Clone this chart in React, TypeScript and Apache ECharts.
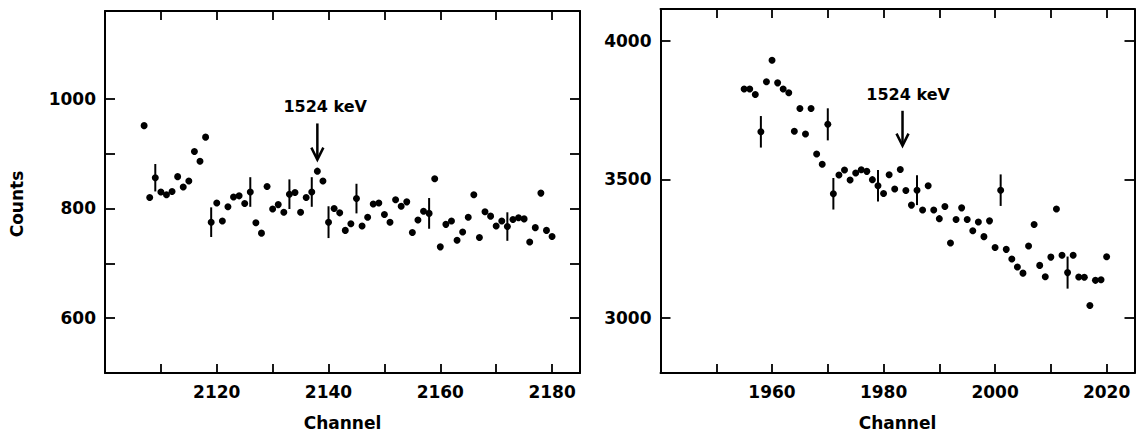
import React, { useEffect, useRef } from "react";
import * as echarts from "echarts";

// ---------- Left panel data ----------
const leftChannels = [
  2107, 2108, 2109, 2110, 2111, 2112, 2113, 2114, 2115, 2116, 2117, 2118, 2119, 2120,
  2121, 2122, 2123, 2124, 2125, 2126, 2127, 2128, 2129, 2130, 2131, 2132, 2133, 2134,
  2135, 2136, 2137, 2138, 2139, 2140, 2141, 2142, 2143, 2144, 2145, 2146, 2147, 2148,
  2149, 2150, 2151, 2152, 2153, 2154, 2155, 2156, 2157, 2158, 2159, 2160, 2161, 2162,
  2163, 2164, 2165, 2166, 2167, 2168, 2169, 2170, 2171, 2172, 2173, 2174, 2175, 2176,
  2177, 2178, 2179, 2180,
];
const leftCounts = [
  951, 820, 856, 830, 825, 831, 858, 839, 850, 904, 886, 930, 775, 810,
  777, 803, 821, 823, 809, 830, 774, 755, 840, 799, 807, 793, 826, 829,
  793, 820, 830, 868, 850, 775, 800, 792, 760, 772, 818, 768, 784, 808,
  810, 789, 775, 816, 804, 812, 756, 779, 795, 791, 854, 730, 771, 777,
  742, 757, 784, 825, 747, 794, 786, 768, 777, 767, 780, 783, 781, 739,
  765, 828, 760, 749,
];
const leftErrChannels = [2109, 2119, 2126, 2133, 2137, 2140, 2145, 2158, 2172];
const leftErrSizes = [25, 27, 27, 27, 27, 29, 27, 28, 26];

const leftXTicks = [2110, 2120, 2130, 2140, 2150, 2160, 2170, 2180];
const leftXLabels = [2120, 2140, 2160, 2180];
const leftYTicks = [600, 700, 800, 900, 1000];
const leftYLabels = [600, 800, 1000];

// ---------- Right panel data ----------
const rightChannels = [
  1955, 1956, 1957, 1958, 1959, 1960, 1961, 1962, 1963, 1964, 1965, 1966, 1967, 1968,
  1969, 1970, 1971, 1972, 1973, 1974, 1975, 1976, 1977, 1978, 1979, 1980, 1981, 1982,
  1983, 1984, 1985, 1986, 1987, 1988, 1989, 1990, 1991, 1992, 1993, 1994, 1995, 1996,
  1997, 1998, 1999, 2000, 2001, 2002, 2003, 2004, 2005, 2006, 2007, 2008, 2009, 2010,
  2011, 2012, 2013, 2014, 2015, 2016, 2017, 2018, 2019, 2020,
];
const rightCounts = [
  3827, 3827, 3807, 3672, 3853, 3931, 3849, 3827, 3813, 3674, 3756, 3664, 3756, 3592,
  3555, 3699, 3448, 3516, 3534, 3498, 3523, 3535, 3529, 3499, 3477, 3449, 3517, 3465,
  3536, 3460, 3407, 3461, 3389, 3477, 3389, 3358, 3402, 3270, 3355, 3397, 3355, 3314,
  3346, 3293, 3350, 3254, 3461, 3247, 3212, 3183, 3161, 3259, 3337, 3189, 3148, 3219,
  3393, 3226, 3163, 3226, 3147, 3146, 3044, 3135, 3137, 3220,
];
const rightErrChannels = [1958, 1970, 1971, 1979, 1986, 2001, 2013];
const rightErrSizes = [57, 58, 57, 57, 54, 57, 58];

const rightXTicks = [1950, 1960, 1970, 1980, 1990, 2000, 2010, 2020];
const rightXLabels = [1960, 1980, 2000, 2020];
const rightYTicks = [3000, 3500, 4000];
const rightYLabels = [3000, 3500, 4000];

// annotation: [arrow channel, arrow top value, arrow tip value, label channel, label value]
const leftArrow = [2138, 955, 889, 2139.4, 985];
const rightArrow = [1983.4, 3748, 3622, 1984.4, 3806];
const peakLabel = "1524 keV";

const FONT = "DejaVu Sans";
const INK = "#000";

function buildErr(chs: number[], sizes: number[], xs: number[], ys: number[]) {
  return chs.map((c, i) => [c, ys[xs.indexOf(c)], sizes[i]]);
}

const plain = (v: number) => String(v);

const errItem = (_p: any, api: any) => {
  const x = api.value(0);
  const y = api.value(1);
  const e = api.value(2);
  const a = api.coord([x, y - e]);
  const b = api.coord([x, y + e]);
  return {
    type: "line",
    shape: { x1: a[0], y1: a[1], x2: b[0], y2: b[1] },
    style: { stroke: INK, lineWidth: 2 },
  };
};

const arrowItem = (_p: any, api: any) => {
  const ch = api.value(0);
  const top = api.coord([ch, api.value(1)]);
  const tip = api.coord([ch, api.value(2)]);
  const lab = api.coord([api.value(3), api.value(4)]);
  return {
    type: "group",
    children: [
      {
        type: "line",
        shape: { x1: top[0], y1: top[1], x2: tip[0], y2: tip[1] - 2 },
        style: { stroke: INK, lineWidth: 2.5 },
      },
      {
        type: "polyline",
        shape: {
          points: [
            [tip[0] - 6, tip[1] - 12],
            [tip[0], tip[1]],
            [tip[0] + 6, tip[1] - 12],
          ],
        },
        style: { stroke: INK, lineWidth: 2.5, fill: null, lineJoin: "miter" },
      },
      {
        type: "text",
        x: lab[0],
        y: lab[1],
        style: {
          text: peakLabel,
          fill: INK,
          fontFamily: FONT,
          fontWeight: "bold",
          fontSize: 16,
          align: "center",
          verticalAlign: "middle",
        },
      },
    ],
  };
};

function xAxisPair(grid: number, min: number, max: number, ticks: number[], labels: number[]) {
  const line = { show: true, lineStyle: { color: INK, width: 2 } };
  return [
    {
      type: "value",
      gridIndex: grid,
      position: "bottom",
      min,
      max,
      name: "Channel",
      nameLocation: "middle",
      nameGap: 41,
      nameTextStyle: { fontFamily: FONT, fontWeight: "bold", fontSize: 17, color: INK, verticalAlign: "top" },
      axisLine: line,
      axisTick: { show: true, inside: true, length: 9, customValues: ticks, lineStyle: { color: INK, width: 1.8 } },
      axisLabel: {
        show: true,
        customValues: labels,
        formatter: plain,
        margin: 10,
        fontFamily: FONT,
        fontWeight: "bold",
        fontSize: 17,
        color: INK,
      },
      splitLine: { show: false },
    },
    {
      type: "value",
      gridIndex: grid,
      position: "top",
      min,
      max,
      axisLine: line,
      axisTick: { show: true, inside: true, length: 9, customValues: ticks, lineStyle: { color: INK, width: 1.8 } },
      axisLabel: { show: false },
      splitLine: { show: false },
    },
  ];
}

function yAxisPair(grid: number, min: number, max: number, ticks: number[], labels: number[], name: string) {
  const line = { show: true, lineStyle: { color: INK, width: 2 } };
  return [
    {
      type: "value",
      gridIndex: grid,
      position: "left",
      min,
      max,
      name,
      nameLocation: "middle",
      nameGap: 80,
      nameTextStyle: {
        fontFamily: FONT,
        fontWeight: "bold",
        fontSize: 17,
        color: INK,
        padding: [0, 24, 0, 0],
      },
      axisLine: line,
      axisTick: { show: true, inside: true, length: 10, customValues: ticks, lineStyle: { color: INK, width: 1.8 } },
      axisLabel: {
        show: true,
        customValues: labels,
        formatter: plain,
        margin: 9,
        fontFamily: FONT,
        fontWeight: "bold",
        fontSize: 17,
        color: INK,
      },
      splitLine: { show: false },
    },
    {
      type: "value",
      gridIndex: grid,
      position: "right",
      min,
      max,
      axisLine: line,
      axisTick: { show: true, inside: true, length: 10, customValues: ticks, lineStyle: { color: INK, width: 1.8 } },
      axisLabel: { show: false },
      splitLine: { show: false },
    },
  ];
}

export default function App() {
  const ref = useRef<HTMLDivElement>(null);
  useEffect(() => {
    if (!ref.current) return;
    const chart = echarts.init(ref.current, undefined, { renderer: "svg" });
    const leftPts = leftChannels.map((c, i) => [c, leftCounts[i]]);
    const rightPts = rightChannels.map((c, i) => [c, rightCounts[i]]);
    const dot = { color: INK, opacity: 1 };
    chart.setOption({
      animation: false,
      backgroundColor: "#fff",
      grid: [
        { left: 105, top: 11, width: 475, height: 365.5 },
        { left: 660.5, top: 9, width: 474, height: 367.5 },
      ],
      xAxis: [
        ...xAxisPair(0, 2100, 2185, leftXTicks, leftXLabels),
        ...xAxisPair(1, 1940, 2025, rightXTicks, rightXLabels),
      ],
      yAxis: [
        ...yAxisPair(0, 500, 1160, leftYTicks, leftYLabels, "Counts"),
        ...yAxisPair(1, 2800, 4116, rightYTicks, rightYLabels, ""),
      ],
      series: [
        {
          type: "scatter",
          xAxisIndex: 0,
          yAxisIndex: 0,
          data: leftPts,
          symbol: "circle",
          symbolSize: 7,
          itemStyle: dot,
        },
        {
          type: "custom",
          xAxisIndex: 0,
          yAxisIndex: 0,
          data: buildErr(leftErrChannels, leftErrSizes, leftChannels, leftCounts),
          renderItem: errItem,
        },
        {
          type: "custom",
          xAxisIndex: 0,
          yAxisIndex: 0,
          data: [leftArrow],
          renderItem: arrowItem,
        },
        {
          type: "scatter",
          xAxisIndex: 2,
          yAxisIndex: 2,
          data: rightPts,
          symbol: "circle",
          symbolSize: 7,
          itemStyle: dot,
        },
        {
          type: "custom",
          xAxisIndex: 2,
          yAxisIndex: 2,
          data: buildErr(rightErrChannels, rightErrSizes, rightChannels, rightCounts),
          renderItem: errItem,
        },
        {
          type: "custom",
          xAxisIndex: 2,
          yAxisIndex: 2,
          data: [rightArrow],
          renderItem: arrowItem,
        },
      ],
    });
    return () => chart.dispose();
  }, []);
  return (
    <div
      ref={ref}
      style={{ position: "fixed", left: 0, top: 0, width: 1138, height: 436, background: "#fff" }}
    />
  );
}
